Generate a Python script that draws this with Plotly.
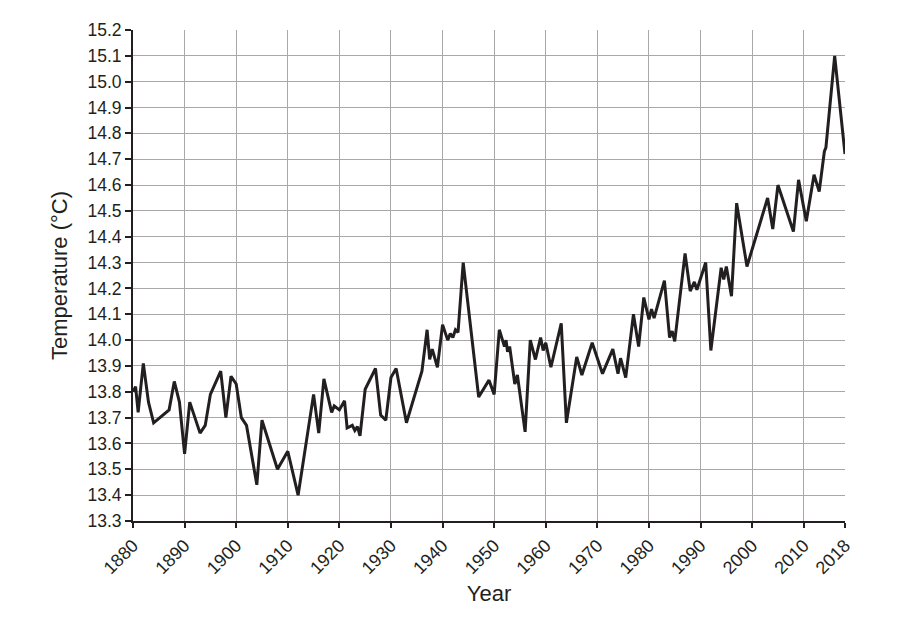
import plotly.graph_objects as go

# Data (vertices of the line)
years = [1880, 1880.5, 1881, 1882, 1883, 1884, 1887, 1888, 1889, 1890, 1891, 1893, 1894, 1895,
         1897, 1898, 1899, 1900, 1901, 1902, 1904, 1905, 1908, 1910, 1912, 1915, 1916, 1917,
         1918.5, 1919, 1920, 1921, 1921.5, 1922.5, 1923, 1923.5, 1924, 1925, 1927, 1928, 1929,
         1930, 1931, 1933, 1936, 1937, 1937.5, 1938, 1939, 1940, 1941, 1941.5, 1942, 1942.5,
         1943, 1944, 1947, 1949, 1950, 1951, 1952, 1952.3, 1952.6, 1953, 1954, 1954.5, 1956,
         1957, 1958, 1959, 1959.5, 1960, 1961, 1963, 1964, 1966, 1967, 1969, 1971, 1973, 1974,
         1974.5, 1975.5, 1977, 1978, 1979, 1980, 1980.5, 1981, 1983, 1984, 1984.5, 1985, 1987,
         1988, 1988.8, 1989.3, 1991, 1992, 1994, 1994.5, 1995, 1996, 1997, 1999, 2003, 2004,
         2005, 2008, 2009, 2010.5, 2012, 2013, 2014, 2014.3, 2016, 2018]
temps = [13.80, 13.82, 13.72, 13.91, 13.76, 13.68, 13.73, 13.84, 13.76, 13.56, 13.76, 13.64, 13.67, 13.79,
         13.88, 13.70, 13.86, 13.83, 13.70, 13.67, 13.44, 13.69, 13.50, 13.57, 13.40, 13.79, 13.64, 13.85,
         13.72, 13.745, 13.73, 13.765, 13.66, 13.67, 13.65, 13.665, 13.63, 13.81, 13.89, 13.71, 13.69,
         13.855, 13.89, 13.68, 13.88, 14.04, 13.925, 13.965, 13.895, 14.06, 14.00, 14.025, 14.01, 14.04,
         14.03, 14.30, 13.78, 13.845, 13.79, 14.04, 13.975, 14.00, 13.955, 13.975, 13.83, 13.865, 13.645,
         14.00, 13.925, 14.01, 13.96, 13.99, 13.895, 14.065, 13.68, 13.935, 13.865, 13.99, 13.87, 13.965, 13.87,
         13.93, 13.855, 14.10, 13.975, 14.165, 14.08, 14.12, 14.085, 14.23, 14.01, 14.035, 13.995, 14.335,
         14.19, 14.225, 14.195, 14.30, 13.96, 14.28, 14.235, 14.285, 14.17, 14.53, 14.285, 14.55, 14.43,
         14.60, 14.42, 14.62, 14.46, 14.64, 14.575, 14.73, 14.745, 15.10, 14.72]

x_ticks = [1880, 1890, 1900, 1910, 1920, 1930, 1940, 1950, 1960, 1970, 1980, 1990, 2000, 2010, 2018]
y_min, y_max, y_step = 13.3, 15.2, 0.1

ink = "#231f20"
font_family = "Liberation Sans, Arial, sans-serif"

fig = go.Figure()
fig.add_trace(go.Scatter(x=years, y=temps, mode="lines",
                         line=dict(color=ink, width=3), hoverinfo="x+y"))

fig.update_layout(
    width=915, height=624,
    margin=dict(l=125, r=78, t=22, b=111),
    paper_bgcolor="white", plot_bgcolor="white",
    showlegend=False,
    font=dict(family=font_family, color=ink, size=17),
)
fig.update_xaxes(
    range=[1880, 2018], tickmode="array", tickvals=x_ticks,
    ticktext=[str(t) for t in x_ticks], tickangle=-45,
    showgrid=True, gridcolor="#a8a8a8", gridwidth=1,
    showline=True, linecolor=ink, linewidth=2,
    ticks="outside", ticklen=5, tickcolor=ink, tickwidth=1.5,
    tickfont=dict(size=18), zeroline=False,
    title=dict(text="Year", font=dict(size=22), standoff=8),
)
fig.update_yaxes(
    range=[y_min, y_max], dtick=y_step, tick0=y_min, tickformat=".1f",
    showgrid=True, gridcolor="#a8a8a8", gridwidth=1,
    showline=True, linecolor=ink, linewidth=2,
    ticks="outside", ticklen=6, tickcolor=ink, tickwidth=1.5,
    tickfont=dict(size=17.5), zeroline=False,
    title=dict(text="Temperature (°C)", font=dict(size=22), standoff=14),
)

fig.write_html("out.html")
